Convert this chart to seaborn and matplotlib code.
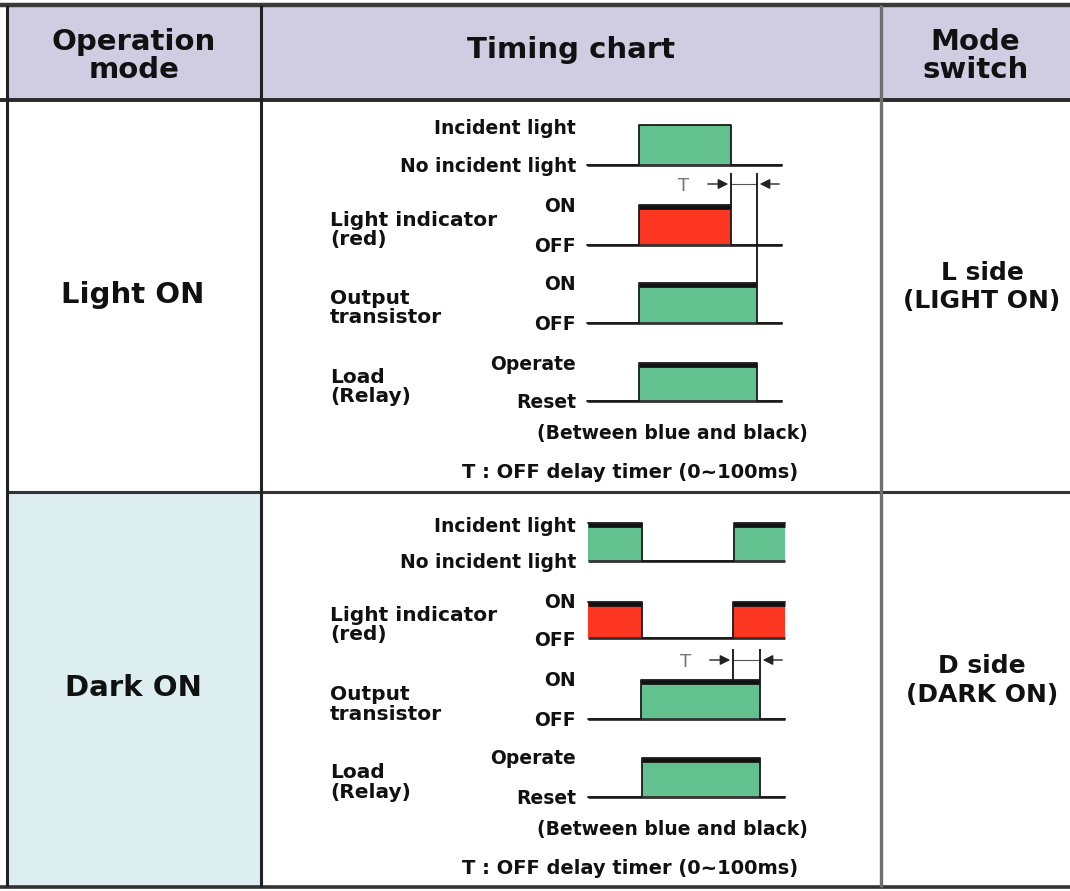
import matplotlib
matplotlib.use("Agg")
import matplotlib.pyplot as plt
import seaborn as sns
import pandas as pd

# ---- table layout data
col_edges = [7, 261, 881, 1070]
row_edges = [5, 100, 492, 887]
header_labels = ["Operation\nmode", "Timing chart", "Mode\nswitch"]
mode_labels = ["Light ON", "Dark ON"]
switch_labels = ["L side\n(LIGHT ON)", "D side\n(DARK ON)"]

# ---- timing chart data (x = time position, y = level position)
sig_names = [None, "Light indicator\n(red)", "Output\ntransistor", "Load\n(Relay)"]
hi_labels = ["Incident light", "ON", "ON", "Operate"]
lo_labels = ["No incident light", "OFF", "OFF", "Reset"]
sig_colors = ["#63C18F", "#FC3620", "#63C18F", "#63C18F"]

light_lo = [165, 245, 323, 401]
light_hi = [125, 205, 283, 363]
light_pulses = [[(639, 731)], [(639, 731)], [(639, 757)], [(639, 757)]]
light_thick = [False, True, True, True]
light_span = (587, 782)
light_delay = (731, 757)      # T : off delay
light_delay_y = 184

dark_lo = [561, 638, 719, 797]
dark_hi = [523, 602, 680, 758]
dark_pulses = [[(588, 642), (734, 785)], [(588, 642), (733, 785)], [(641, 760)], [(642, 760)]]
dark_thick = [True, True, True, True]
dark_span = (588, 785)
dark_delay = (733, 760)
dark_delay_y = 660

note1 = "(Between blue and black)"
note2 = "T : OFF delay timer (0~100ms)"

sns.set_theme(style="white")
plt.rcParams['font.family'] = ['DejaVu Sans']

fig = plt.figure(figsize=(10.7, 8.91), dpi=100)
ax = fig.add_axes([0, 0, 1, 1])
ax.set_xlim(0, 1070)
ax.set_ylim(891, 0)
ax.axis('off')

# ---- table backgrounds
ax.fill_between([col_edges[0], col_edges[-1]], row_edges[0], row_edges[1], color='#D0CDE3', zorder=0)
ax.fill_between([col_edges[0], col_edges[1]], row_edges[2], row_edges[3], color='#DDEEF0', zorder=0)

# ---- table lines
ax.hlines(row_edges[0], 0, 1070, color='#3a3a3a', lw=3.2)
ax.hlines(row_edges[1], 0, 1070, color='#2a2a2a', lw=2.8)
ax.hlines(row_edges[2], col_edges[0], 1070, color='#333333', lw=2.2)
ax.hlines(row_edges[3], 0, 1070, color='#333333', lw=2.6)
ax.vlines(col_edges[0], row_edges[0], row_edges[3], color='#222222', lw=2.2)
ax.vlines(col_edges[1], row_edges[0], row_edges[3], color='#222222', lw=2.2)
ax.vlines(col_edges[2], row_edges[0], row_edges[3], color='#707070', lw=2.4)

# ---- header and side texts
for i, lab in enumerate(header_labels):
    xc = (col_edges[i] + col_edges[i + 1]) / 2
    yc = 56 if "\n" in lab else 50
    ax.text(xc, yc, lab, ha='center', va='center', fontsize=21, fontweight='bold',
            linespacing=1.0, color='#111111')

for j in range(2):
    yc = (row_edges[j + 1] + row_edges[j + 2]) / 2
    ax.text(133, yc - 1, mode_labels[j], ha='center', va='center', fontsize=21,
            fontweight='bold', color='#111111')
    ax.text(982, yc - 9, switch_labels[j], ha='center', va='center', fontsize=18,
            fontweight='bold', linespacing=1.25, color='#111111')


def wave_points(pulses, span, lo, hi):
    xs, ys = [span[0]], [lo]
    for a, b in pulses:
        if a > span[0]:
            xs += [a, a]
            ys += [lo, hi]
        else:
            xs, ys = [a], [hi]
        if b < span[1]:
            xs += [b, b]
            ys += [hi, lo]
        else:
            xs += [b]
            ys += [hi]
    if xs[-1] < span[1]:
        xs.append(span[1])
        ys.append(lo)
    return xs, ys


def draw_mode(lo_list, hi_list, pulses_list, thick, span, delay, delay_y, first_stop):
    for k in range(4):
        lo, hi = lo_list[k], hi_list[k]
        for a, b in pulses_list[k]:
            ax.fill_between([a, b], lo, hi, color=sig_colors[k], lw=0, zorder=1)
            if thick[k]:
                ax.hlines(hi + 1.5, a, b, color='#111111', lw=3.4, zorder=3)
        ax.hlines(lo, span[0], span[1], color='#333333', lw=2.0, zorder=2)
        xs, ys = wave_points(pulses_list[k], span, lo, hi)
        df = pd.DataFrame({"t": xs, "level": ys})
        sns.lineplot(data=df, x="t", y="level", sort=False, estimator=None,
                     color='#1a1a1a', lw=1.3, ax=ax, legend=False, zorder=3)
        # level labels
        dy = 4 if k == 0 else 1
        ax.text(576, hi + dy, hi_labels[k], ha='right', va='center', fontsize=13.5,
                fontweight='bold', color='#111111')
        ax.text(576, lo + 2, lo_labels[k], ha='right', va='center', fontsize=13.5,
                fontweight='bold', color='#111111')
        if sig_names[k]:
            ax.text(330, (lo + hi) / 2 + 5, sig_names[k], ha='left', va='center',
                    fontsize=14.5, fontweight='bold', linespacing=1.05, color='#111111')
    # delay markers
    t0, t1 = delay
    ax.vlines(t0, delay_y - 11, hi_list[first_stop], color='#111111', lw=1.3, zorder=3)
    ax.vlines(t1, delay_y - 11, hi_list[2], color='#111111', lw=1.3, zorder=3)
    ax.hlines(delay_y, t0, t1, color='#555555', lw=0.8)
    ax.annotate('', xy=(t0, delay_y), xytext=(t0 - 26, delay_y),
                arrowprops=dict(arrowstyle='-|>', color='#222222', lw=1.0, mutation_scale=15))
    ax.annotate('', xy=(t1, delay_y), xytext=(span[1], delay_y),
                arrowprops=dict(arrowstyle='-|>', color='#222222', lw=1.0, mutation_scale=15))
    ax.text(t0 - 47, delay_y + 2, "T", ha='center', va='center', fontsize=13,
            color='#777777')
    ax.text(672, lo_list[-1] + 32, note1, ha='center', va='center', fontsize=13.5,
            fontweight='bold', color='#111111')
    ax.text(630, lo_list[-1] + 71, note2, ha='center', va='center', fontsize=14,
            fontweight='bold', color='#111111')


draw_mode(light_lo, light_hi, light_pulses, light_thick, light_span, light_delay, light_delay_y, 1)
draw_mode(dark_lo, dark_hi, dark_pulses, dark_thick, dark_span, dark_delay, dark_delay_y, 2)

ax.set_xlim(0, 1070)
ax.set_ylim(891, 0)
fig.savefig("out.png", dpi=100)
